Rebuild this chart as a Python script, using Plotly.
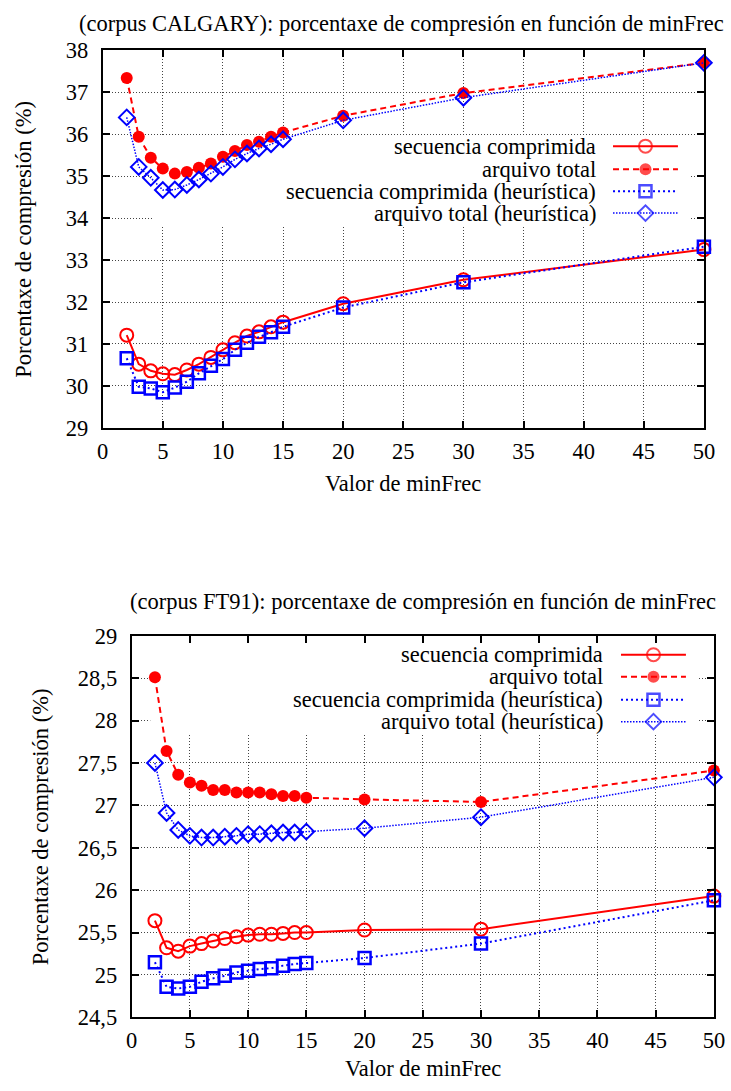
import plotly.graph_objects as go

# ---------------- data ----------------
min_frec = [2, 3, 4, 5, 6, 7, 8, 9, 10, 11, 12, 13, 14, 15, 20, 30, 50]

cal_seq = [31.21, 30.52, 30.36, 30.29, 30.27, 30.38, 30.52, 30.68, 30.86, 31.03, 31.19, 31.29, 31.41, 31.52, 31.96, 32.53, 33.25]
cal_total = [37.34, 35.94, 35.44, 35.18, 35.06, 35.10, 35.20, 35.30, 35.46, 35.60, 35.74, 35.82, 35.94, 36.04, 36.44, 36.98, 37.70]
cal_seq_h = [30.66, 29.98, 29.94, 29.85, 29.96, 30.10, 30.30, 30.48, 30.64, 30.86, 31.03, 31.17, 31.28, 31.41, 31.87, 32.47, 33.32]
cal_total_h = [36.40, 35.22, 34.96, 34.67, 34.68, 34.79, 34.92, 35.06, 35.22, 35.40, 35.54, 35.66, 35.76, 35.88, 36.33, 36.87, 37.70]

ft_seq = [25.64, 25.32, 25.28, 25.34, 25.37, 25.40, 25.43, 25.45, 25.47, 25.48, 25.48, 25.49, 25.50, 25.50, 25.53, 25.54, 25.93]
ft_total = [28.51, 27.64, 27.36, 27.27, 27.23, 27.18, 27.18, 27.15, 27.15, 27.15, 27.13, 27.11, 27.11, 27.09, 27.07, 27.04, 27.41]
ft_seq_h = [25.15, 24.86, 24.84, 24.86, 24.92, 24.96, 24.99, 25.03, 25.05, 25.07, 25.08, 25.11, 25.13, 25.14, 25.20, 25.37, 25.88]
ft_total_h = [27.50, 26.91, 26.71, 26.64, 26.62, 26.62, 26.63, 26.64, 26.66, 26.66, 26.67, 26.68, 26.68, 26.69, 26.73, 26.86, 27.33]

series_names = ["secuencia comprimida", "arquivo total",
                "secuencia comprimida (heurística)", "arquivo total (heurística)"]
title_top = "(corpus CALGARY): porcentaxe de compresión en función de minFrec"
title_bot = "(corpus FT91): porcentaxe de compresión en función de minFrec"
x_label = "Valor de minFrec"
y_label = "Porcentaxe de compresión (%)"

# ---------------- layout geometry ----------------
W, H = 731, 1091
# the photographed page appears scaled by S and shifted by (OX, OY);
# target positions below are in picture pixels and are mapped back to page pixels
S, OX, OY = 0.978, 5.2, 11.7


def gx(x):          # picture x -> page x
    return (x - OX) / S


def gy(y):          # picture y -> page y
    return (y - OY) / S


def px(x):          # picture x -> paper fraction
    return gx(x) / W


def py(y):          # picture y -> paper fraction
    return 1 - gy(y) / H


FONT = "Liberation Serif"
FS = 22.5
RED = "#ff0000"
BLUE = "#0000ff"

styles = [
    dict(line=dict(color=RED, width=2, dash="solid"),
         marker=dict(symbol="circle-open", size=13, color=RED, line=dict(width=2, color=RED))),
    dict(line=dict(color=RED, width=2, dash="6px,4px"),
         marker=dict(symbol="circle", size=12, color=RED, line=dict(width=0))),
    dict(line=dict(color=BLUE, width=2, dash="2px,3px"),
         marker=dict(symbol="square-open", size=12, color=BLUE, line=dict(width=2.5, color=BLUE))),
    dict(line=dict(color=BLUE, width=1.5, dash="1.5px,1.5px"),
         marker=dict(symbol="diamond-open", size=12, color=BLUE, line=dict(width=2, color=BLUE))),
]

fig = go.Figure()

top_box = dict(l=102, r=704, t=50, b=428)
bot_box = dict(l=131, r=714, t=636, b=1018)

for data, (xa, ya) in [((cal_seq, cal_total, cal_seq_h, cal_total_h), ("x", "y")),
                       ((ft_seq, ft_total, ft_seq_h, ft_total_h), ("x2", "y2"))]:
    for vals, st, name in zip(data, styles, series_names):
        fig.add_trace(go.Scatter(x=min_frec, y=vals, mode="lines+markers", name=name,
                                 line=st["line"], marker=st["marker"], xaxis=xa, yaxis=ya,
                                 showlegend=False, cliponaxis=False))

# gnuplot-style key: text right-aligned, sample to its right
legend_specs = [
    dict(text_right=598, x1=613, x2=678, ys=[146, 169, 191, 213]),
    dict(text_right=605, x1=621, x2=686, ys=[655, 677, 700, 722]),
]
for spec in legend_specs:
    x1, x2 = gx(spec["x1"]), gx(spec["x2"])
    xm = (x1 + x2) / 2
    for st, name, yy in zip(styles, series_names, spec["ys"]):
        mk = dict(st["marker"])
        mk["size"] = [0, st["marker"]["size"], 0]
        fig.add_trace(go.Scatter(x=[x1, xm, x2], y=[gy(yy)] * 3,
                                 mode="lines+markers", line=st["line"], marker=mk,
                                 xaxis="x3", yaxis="y3", showlegend=False,
                                 hoverinfo="skip", cliponaxis=False))
        fig.add_annotation(x=px(spec["text_right"]), y=py(yy), xref="paper", yref="paper",
                           text=name, showarrow=False, xanchor="right", yanchor="middle",
                           font=dict(family=FONT, size=FS, color="black"))

axis_common = dict(showline=True, linewidth=2, linecolor="black", mirror="allticks",
                   ticks="inside", ticklen=7, tickwidth=1.5, tickcolor="black",
                   showgrid=True, gridcolor="#444444", gridwidth=1, griddash="1px,2px",
                   zeroline=False, tickfont=dict(family=FONT, size=FS, color="black"))

fig.update_layout(
    width=W, height=H,
    margin=dict(l=0, r=0, t=0, b=0),
    paper_bgcolor="white", plot_bgcolor="rgba(0,0,0,0)",
    font=dict(family=FONT, size=FS, color="black"),
    separators=",.",
    showlegend=False,
    xaxis=dict(domain=[px(top_box["l"]), px(top_box["r"])], range=[0, 50], dtick=5, tick0=0,
               anchor="y", ticklabelstandoff=2, **axis_common),
    yaxis=dict(domain=[py(top_box["b"]), py(top_box["t"])], range=[29, 38], dtick=1, tick0=29,
               anchor="x", ticklabelstandoff=8, **axis_common),
    xaxis2=dict(domain=[px(bot_box["l"]), px(bot_box["r"])], range=[0, 50], dtick=5, tick0=0,
                anchor="y2", ticklabelstandoff=2, **axis_common),
    yaxis2=dict(domain=[py(bot_box["b"]), py(bot_box["t"])], range=[24.5, 29], dtick=0.5, tick0=24.5,
                anchor="x2", ticklabelstandoff=8, **axis_common),
    xaxis3=dict(domain=[0, 1], range=[0, W], visible=False, anchor="y3", fixedrange=True),
    yaxis3=dict(domain=[0, 1], range=[H, 0], visible=False, anchor="x3", fixedrange=True),
)

# opaque key area (hides grid, stays below the data)
fig.add_shape(type="rect", xref="x", yref="y", x0=4.15, x1=48.8, y0=33.83, y1=35.97,
              fillcolor="white", line=dict(width=0), layer="between")
fig.add_shape(type="rect", xref="x2", yref="y2", x0=1.6, x1=48.7, y0=27.83, y1=28.98,
              fillcolor="white", line=dict(width=0), layer="between")

for txt, x, y, ang in [(title_top, 401, 23, 0), (title_bot, 423, 602, 0),
                       (x_label, 403, 484, 0), (x_label, 423, 1069, 0),
                       (y_label, 22, 239, -90), (y_label, 40, 827, -90)]:
    fig.add_annotation(x=px(x), y=py(y), xref="paper", yref="paper", text=txt,
                       showarrow=False, xanchor="center", yanchor="middle", textangle=ang,
                       font=dict(family=FONT, size=FS, color="black"))

fig.write_html(
    "out.html",
    config={"displayModeBar": False},
    post_script="document.documentElement.style.margin='0';document.body.style.margin='0';"
                "document.body.style.padding='0';document.body.style.overflow='hidden';",
)
